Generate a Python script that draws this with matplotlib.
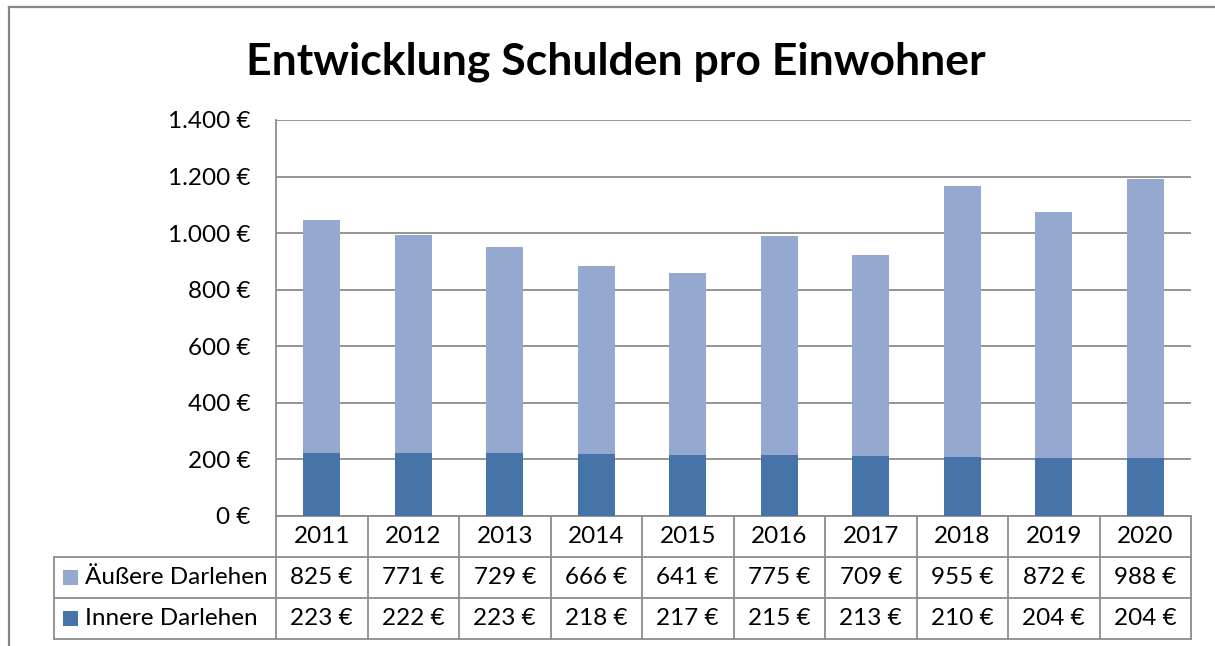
import matplotlib
matplotlib.use("Agg")
import matplotlib.pyplot as plt
import matplotlib.transforms as mtransforms
from matplotlib.lines import Line2D
from matplotlib.patches import Rectangle

years = ["2011", "2012", "2013", "2014", "2015", "2016", "2017", "2018", "2019", "2020"]
innere = [223, 222, 223, 218, 217, 215, 213, 210, 204, 204]
aeussere = [825, 771, 729, 666, 641, 775, 709, 955, 872, 988]
y_ticks = [0, 200, 400, 600, 800, 1000, 1200, 1400]

col_dark = "#4673a8"
col_light = "#95a9d0"
grid_col = "#8c8c8c"

plt.rcParams['font.family'] = ['Lato', 'DejaVu Sans']
fs = 17.5

def euro(v):
    return "{:,} €".format(v).replace(",", ".")

fig = plt.figure(figsize=(12.15, 6.46), dpi=100)
ax = fig.add_axes([276/1215, 1-516/646, 915/1215, 396/646])

x = list(range(len(years)))
ax.bar(x, innere, width=0.4, color=col_dark, zorder=3)
ax.bar(x, aeussere, width=0.4, bottom=innere, color=col_light, zorder=3)

ax.set_xlim(-0.5, len(years)-0.5)
ax.set_ylim(0, 1400)
ax.set_yticks(y_ticks)
ax.set_yticklabels([euro(v) for v in y_ticks], fontsize=fs)
ax.tick_params(axis='y', length=0, pad=18.5)
ax.set_xticks([])
ax.grid(axis='y', color=grid_col, linewidth=1.3, zorder=1)
for s in ["top", "right", "bottom"]:
    ax.spines[s].set_visible(False)
ax.spines["left"].set_color(grid_col)
ax.spines["left"].set_linewidth(1.3)

# data table below the plot
tr = mtransforms.blended_transform_factory(ax.transData, ax.transAxes)
row_h = 41/396
label_left = -0.5 - 222/91.5
n = len(years)
rows = [("Äußere Darlehen", aeussere, col_light), ("Innere Darlehen", innere, col_dark)]

def hline(x0, x1, y):
    ax.add_line(Line2D([x0, x1], [y, y], transform=tr, color=grid_col, lw=1.3, clip_on=False))

def vline(xx, y0, y1):
    ax.add_line(Line2D([xx, xx], [y0, y1], transform=tr, color=grid_col, lw=1.3, clip_on=False))

hline(-0.5, n-0.5, 0)
hline(label_left, n-0.5, -row_h)
hline(label_left, n-0.5, -2*row_h)
hline(label_left, n-0.5, -3*row_h)
vline(label_left, -row_h, -3*row_h)
for i in range(n+1):
    vline(i-0.5, 0, -3*row_h)

for i, yr in enumerate(years):
    ax.text(i, -0.5*row_h, yr, transform=tr, ha='center', va='center', fontsize=fs)

for r, (name, vals, c) in enumerate(rows):
    yc = -(r+1.5)*row_h
    ax.add_patch(Rectangle((label_left+9/91.5, yc-7.5/396), 15/91.5, 15/396, transform=tr,
                           facecolor=c, edgecolor='none', clip_on=False))
    ax.text(label_left+31/91.5, yc, name, transform=tr, ha='left', va='center', fontsize=fs)
    for i, v in enumerate(vals):
        ax.text(i, yc, euro(v), transform=tr, ha='center', va='center', fontsize=fs)

fig.text(0.5066, 1-62/646, "Entwicklung Schulden pro Einwohner", ha='center', va='center',
         fontsize=32, fontweight='bold')

# outer chart frame
fig.add_artist(Line2D([9/1215, 9/1215], [0, 1-7/646], transform=fig.transFigure, color="#868686", lw=1.6))
fig.add_artist(Line2D([9/1215, 1], [1-7/646, 1-7/646], transform=fig.transFigure, color="#868686", lw=1.6))

plt.savefig("out.png", dpi=100)
